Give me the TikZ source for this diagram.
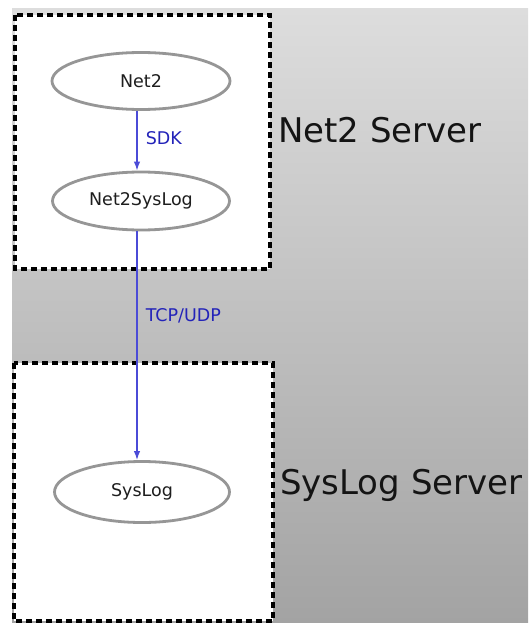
\documentclass[tikz,border=0pt]{standalone}
\usepackage{fontspec}
\setmainfont{DejaVu Sans}
\usetikzlibrary{arrows.meta,shapes.geometric}
\definecolor{edgeblue}{RGB}{75,75,215}
\definecolor{lblblue}{RGB}{35,35,185}
\definecolor{ellgray}{RGB}{150,150,150}
\tikzset{
  cluster/.style={draw=black, line width=3.1pt, dash pattern=on 6pt off 4pt, fill=white},
  proc/.style={ellipse, draw=ellgray, line width=2.8pt, fill=white, inner sep=0pt,
    text={rgb,255:red,30;green,30;blue,30}, font=\fontsize{17.5}{20}\selectfont},
  conn/.style={draw=edgeblue, line width=1.5pt, -{Latex[length=9pt,width=6.5pt]}},
  lbl/.style={text=lblblue, font=\fontsize{17.5}{20}\selectfont, inner sep=0pt, anchor=west},
  srv/.style={text={rgb,255:red,20;green,20;blue,20}, font=\fontsize{34}{40}\selectfont, inner sep=0pt, anchor=west}
}
\begin{document}
\begin{tikzpicture}[x=1pt,y=-1pt]
\useasboundingbox (0,0) rectangle (528,623);
\fill[white] (0,0) rectangle (528,623);
\shade[top color={rgb,255:red,221;green,221;blue,221}, bottom color={rgb,255:red,163;green,163;blue,163}] (12,9) rectangle (528,623);
\draw[cluster] (15,15) rectangle (270,269);
\draw[cluster] (14,363) rectangle (273,621);
\node[proc, minimum width=178pt, minimum height=57pt] (net2) at (141,81) {Net2};
\node[proc, minimum width=177pt, minimum height=58pt] (n2s) at (141,201) {Net2SysLog};
\node[proc, minimum width=175pt, minimum height=61pt] (sys) at (142,492) {SysLog};
\draw[conn] ([xshift=-4pt]net2.south) -- node[lbl, pos=0.45, xshift=8pt] (sdk) {SDK} ([xshift=-4pt]n2s.north);
\draw[conn] ([xshift=-4pt]n2s.south) -- node[lbl, pos=0.37, xshift=8pt] (tcp) {TCP/UDP} ([xshift=-5pt]sys.north);
\node[srv] (s1) at (278,130) {Net2 Server};
\node[srv] (s2) at (280,485) {SysLog Server};
\end{tikzpicture}
\end{document}
